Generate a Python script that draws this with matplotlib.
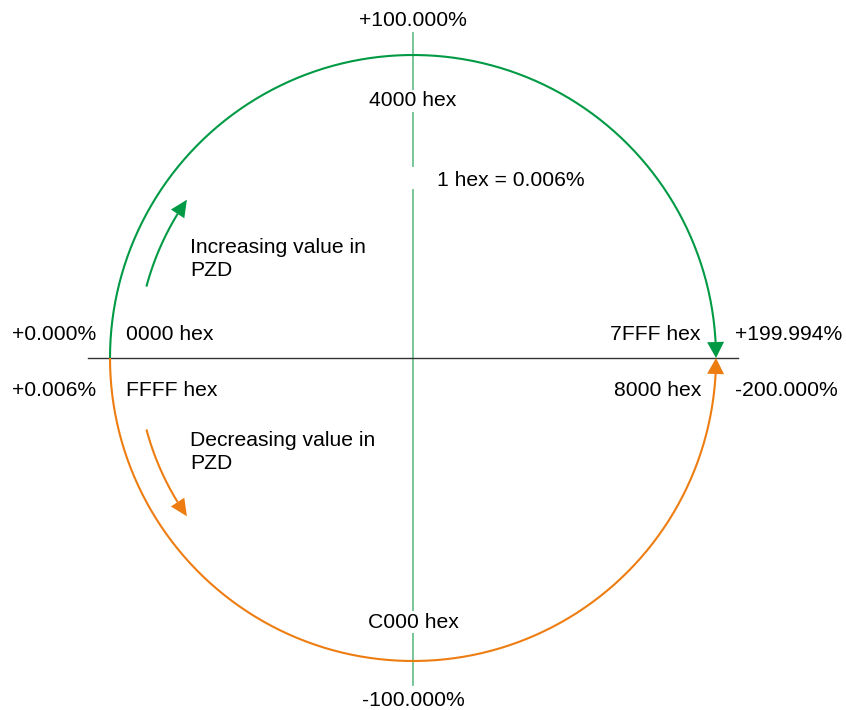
import numpy as np
import matplotlib.pyplot as plt
from matplotlib.patches import Polygon

plt.rcParams['font.family'] = ['Liberation Sans', 'DejaVu Sans']

GREEN = '#009a44'
ORANGE = '#ee7d11'
AXIS_GREEN = '#6cc28f'

top_label = '+100.000%'
bottom_label = '-100.000%'
hex_top = '4000 hex'
hex_bottom = 'C000 hex'
resolution = '1 hex = 0.006%'
left_pct = ['+0.000%', '+0.006%']
left_hex = ['0000 hex', 'FFFF hex']
right_hex = ['7FFF hex', '8000 hex']
right_pct = ['+199.994%', '-200.000%']
inc_text = 'Increasing value in\nPZD'
dec_text = 'Decreasing value in\nPZD'

CX, CY, R = 413, 358, 303
R_SMALL = 276


def pt(r, deg):
    t = np.radians(deg)
    return CX + r * np.cos(t), CY - r * np.sin(t)


def arc_arrow(ax, r, t0, t1, color, head_len=16, head_w=8.5):
    # line stops at the base of the head, head tip sits on t1
    tip = np.array(pt(r, t1))
    sign = np.sign(t1 - t0)
    dt = np.degrees(head_len / r) * sign
    t = np.linspace(t0, t1 - dt, 200)
    xs, ys = pt(r, t)
    ax.plot(xs, ys, color=color, lw=1.5, solid_capstyle='butt', zorder=3)
    base = np.array(pt(r, t1 - dt))
    d = tip - base
    d = d / np.hypot(*d)
    n = np.array([-d[1], d[0]])
    tri = [tip, base + n * head_w, base - n * head_w]
    ax.add_patch(Polygon(tri, closed=True, color=color, lw=0, zorder=4))


fig = plt.figure(figsize=(8.46, 7.10), dpi=100)
ax = fig.add_axes([0, 0, 1, 1])
ax.set_xlim(0, 846)
ax.set_ylim(710, 0)
ax.axis('off')

# axes lines
ax.plot([88, 738], [CY, CY], color='#333333', lw=1.0, zorder=2)
ax.plot([CX, CX], [33, 166], color=AXIS_GREEN, lw=1.3, zorder=1)
ax.plot([CX, CX], [190, 685], color=AXIS_GREEN, lw=1.3, zorder=1)

# main circle: upper half green, lower half orange
arc_arrow(ax, R, 180, 0, GREEN)
arc_arrow(ax, R, 180, 360, ORANGE)

# inner direction arrows
arc_arrow(ax, R_SMALL, 165, 145, GREEN, head_len=17, head_w=8)
arc_arrow(ax, R_SMALL, 195, 215, ORANGE, head_len=17, head_w=8)

fs = 15.2
wb = dict(facecolor='white', edgecolor='none', pad=1)
ax.text(CX, 21, top_label, ha='center', va='center', fontsize=fs)
ax.text(CX, 101, hex_top, ha='center', va='center', fontsize=fs, bbox=wb, zorder=5)
ax.text(437, 181, resolution, ha='left', va='center', fontsize=fs)
ax.text(CX, 622, hex_bottom, ha='center', va='center', fontsize=fs, bbox=wb, zorder=5)
ax.text(CX, 700, bottom_label, ha='center', va='center', fontsize=fs)

for y, lp, lh, rh, rp in zip([334, 390], left_pct, left_hex, right_hex, right_pct):
    ax.text(12, y, lp, ha='left', va='center', fontsize=fs)
    ax.text(126, y, lh, ha='left', va='center', fontsize=fs)
    ax.text(701, y, rh, ha='right', va='center', fontsize=fs)
    ax.text(735, y, rp, ha='left', va='center', fontsize=fs)

ax.text(190, 259, inc_text, ha='left', va='center', fontsize=fs, linespacing=1.3)
ax.text(190, 452, dec_text, ha='left', va='center', fontsize=fs, linespacing=1.3)

fig.savefig('out.png', dpi=100)
